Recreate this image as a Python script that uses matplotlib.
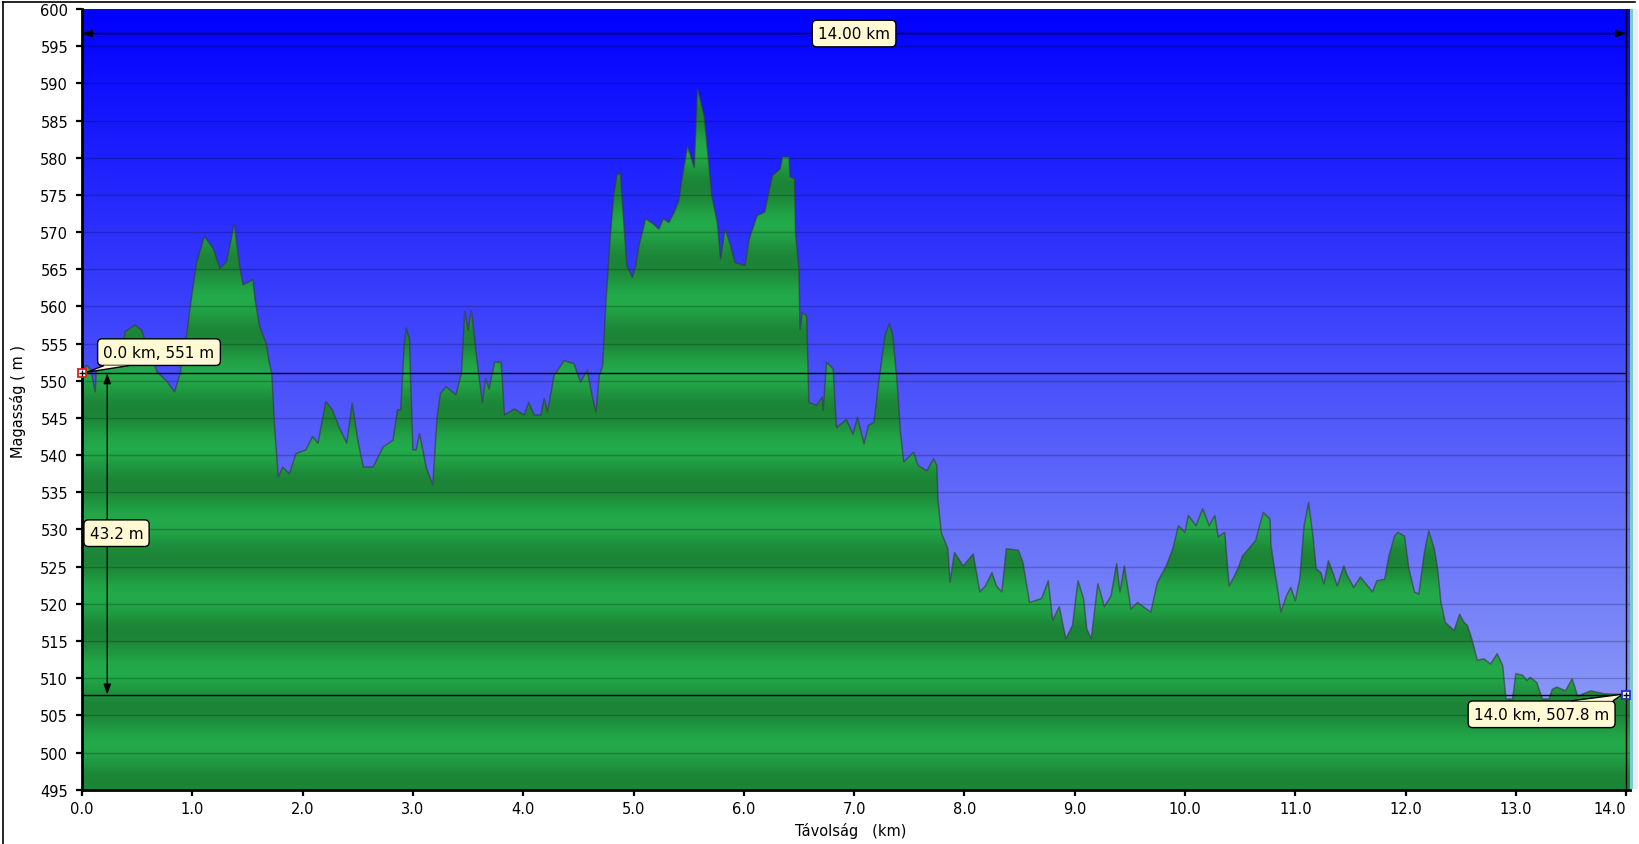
import numpy as np
import matplotlib
matplotlib.use("Agg")
import matplotlib.pyplot as plt
from matplotlib.patches import Polygon, Rectangle
from matplotlib.lines import Line2D
from matplotlib.patches import ArrowStyle

# ---------------- data ----------------
distance_km = [
    0.00, 0.04, 0.08, 0.12, 0.13, 0.25, 0.36, 0.39, 0.48, 0.54, 0.57, 0.68, 0.77, 0.84, 0.89, 0.95, 0.99,
    1.04, 1.11, 1.19, 1.25, 1.31, 1.38, 1.43, 1.46, 1.55, 1.57, 1.61, 1.67, 1.70, 1.72, 1.75, 1.78,
    1.82, 1.88, 1.94, 2.03, 2.09, 2.14, 2.21, 2.27, 2.33, 2.40, 2.45, 2.50, 2.55, 2.64, 2.73, 2.82,
    2.86, 2.89, 2.92, 2.94, 2.97, 2.98, 3.00, 3.03, 3.06, 3.12, 3.18, 3.22, 3.25, 3.30, 3.39, 3.44,
    3.47, 3.50, 3.53, 3.59, 3.63, 3.66, 3.69, 3.74, 3.80, 3.83, 3.92, 4.01, 4.05, 4.10, 4.16, 4.19,
    4.22, 4.28, 4.37, 4.46, 4.52, 4.58, 4.63, 4.66, 4.69, 4.72, 4.75, 4.79, 4.82, 4.85, 4.88, 4.91,
    4.94, 4.99, 5.02, 5.05, 5.11, 5.18, 5.23, 5.27, 5.32, 5.37, 5.41, 5.44, 5.49, 5.55, 5.58, 5.61,
    5.64, 5.67, 5.71, 5.76, 5.79, 5.83, 5.88, 5.92, 6.01, 6.05, 6.12, 6.19, 6.22, 6.26, 6.33, 6.35,
    6.41, 6.42, 6.46, 6.47, 6.50, 6.51, 6.53, 6.57, 6.59, 6.66, 6.71, 6.72, 6.75, 6.81, 6.84, 6.93,
    6.99, 7.03, 7.09, 7.13, 7.18, 7.22, 7.28, 7.32, 7.35, 7.39, 7.42, 7.45, 7.54, 7.58, 7.66, 7.72,
    7.75, 7.76, 7.79, 7.85, 7.87, 7.91, 7.99, 8.08, 8.14, 8.19, 8.25, 8.29, 8.34, 8.38, 8.49, 8.53,
    8.59, 8.70, 8.76, 8.80, 8.86, 8.92, 8.98, 9.03, 9.08, 9.11, 9.15, 9.21, 9.27, 9.33, 9.38, 9.41,
    9.45, 9.51, 9.57, 9.65, 9.69, 9.75, 9.83, 9.89, 9.94, 10.00, 10.03, 10.10, 10.16, 10.22, 10.27,
    10.30, 10.36, 10.40, 10.45, 10.49, 10.52, 10.60, 10.64, 10.71, 10.77, 10.78, 10.83, 10.87, 10.92,
    10.96, 11.00, 11.04, 11.08, 11.12, 11.16, 11.19, 11.23, 11.26, 11.30, 11.35, 11.38, 11.44, 11.47,
    11.53, 11.59, 11.64, 11.70, 11.74, 11.81, 11.85, 11.90, 11.93, 11.99, 12.03, 12.08, 12.12, 12.17,
    12.21, 12.26, 12.29, 12.32, 12.36, 12.44, 12.49, 12.53, 12.56, 12.60, 12.65, 12.71, 12.77, 12.83,
    12.88, 12.91, 12.97, 13.00, 13.06, 13.10, 13.13, 13.19, 13.24, 13.30, 13.33, 13.37, 13.45, 13.51,
    13.56, 13.68, 13.80, 14.00,
]
elevation_m = [
    551.0, 552.1, 551.5, 548.5, 551.4, 552.0, 553.0, 556.6, 557.5, 556.8, 555.5, 551.2, 549.9, 548.5, 551.0, 556.4, 560.9,
    566.0, 569.4, 567.8, 565.1, 566.0, 571.0, 565.4, 562.9, 563.6, 560.9, 557.3, 555.0, 552.3, 551.0, 542.9, 537.1,
    538.4, 537.5, 540.2, 540.7, 542.5, 541.6, 547.2, 546.1, 543.8, 541.6, 547.0, 542.0, 538.4, 538.4, 541.1, 542.0,
    546.1, 546.1, 554.6, 557.1, 555.5, 549.6, 540.7, 540.7, 542.9, 538.4, 536.0, 545.2, 548.3, 549.2, 548.1, 551.0,
    559.3, 556.8, 559.5, 551.6, 547.1, 550.3, 548.9, 552.5, 552.5, 545.4, 546.2, 545.4, 547.1, 545.4, 545.4, 547.6,
    545.8, 550.7, 552.7, 552.3, 549.8, 551.4, 547.6, 545.8, 550.7, 552.0, 560.6, 569.5, 574.9, 577.6, 578.0, 571.8,
    565.5, 563.9, 565.5, 568.2, 571.8, 571.1, 570.4, 571.8, 571.3, 572.7, 574.2, 577.2, 581.6, 578.7, 589.3, 587.5,
    585.7, 581.2, 574.9, 571.3, 566.4, 570.4, 568.2, 565.9, 565.5, 569.1, 572.2, 572.7, 574.9, 577.6, 578.5, 580.1,
    580.1, 577.4, 577.2, 569.7, 565.0, 556.9, 559.2, 558.7, 547.1, 546.7, 547.8, 546.0, 552.5, 551.6, 543.7, 544.8,
    542.8, 545.1, 541.5, 544.0, 544.4, 549.4, 556.1, 557.7, 556.1, 549.8, 543.1, 539.1, 540.4, 538.6, 537.9, 539.5,
    538.6, 534.1, 529.6, 527.4, 522.9, 526.9, 525.1, 526.7, 521.6, 522.4, 524.2, 522.4, 521.6, 527.4, 527.2, 525.6,
    520.2, 520.7, 523.1, 517.8, 519.6, 515.3, 517.1, 523.1, 520.7, 516.6, 515.3, 522.7, 519.6, 521.1, 525.4, 521.6,
    525.1, 519.3, 520.2, 519.3, 518.9, 522.9, 525.1, 527.4, 530.5, 529.6, 531.9, 530.5, 532.8, 530.5, 531.9,
    529.0, 529.6, 522.4, 523.8, 525.1, 526.4, 527.8, 528.5, 532.3, 531.4, 527.8, 522.9, 518.9, 521.1,
    522.2, 520.4, 523.3, 530.5, 533.6, 529.1, 524.7, 524.2, 522.7, 525.8, 523.8, 522.4, 525.1, 523.8,
    522.2, 523.6, 522.7, 521.6, 523.1, 523.3, 526.5, 529.1, 529.6, 529.1, 524.7, 521.6, 521.3, 526.9,
    529.8, 527.4, 524.7, 520.2, 517.5, 516.4, 518.6, 517.5, 517.1, 515.3, 512.4, 512.6, 511.9, 513.3,
    511.7, 507.2, 507.2, 510.6, 510.4, 509.7, 510.1, 509.4, 507.2, 507.2, 508.5, 508.8, 508.3, 509.9,
    507.6, 508.3, 507.9, 507.8,
]
x_ticks = [0, 1, 2, 3, 4, 5, 6, 7, 8, 9, 10, 11, 12, 13, 14]
y_ticks = list(range(495, 601, 5))
start_label = "0.0 km, 551 m"
end_label = "14.0 km, 507.8 m"
diff_label = "43.2 m"
length_label = "14.00 km"
start_elev = 551.0
end_elev = 507.8
total_km = 14.0

d = np.array(distance_km)
e = np.array(elevation_m)

# ---------------- figure ----------------
W, H = 1639, 845
fig = plt.figure(figsize=(W / 100, H / 100), dpi=100)
fig.patch.set_facecolor("white")

L, R, T, B = 82, 1630, 10, 790.7
ax = fig.add_axes([L / W, 1 - B / H, (R - L) / W, (B - T) / H])
px_per_km = 110.3
xmax = (R - L) / px_per_km
ymin, ymax = 495, 600

# background gradient (blue)
n = 600
top = np.array([0, 0, 255]) / 255.0
bot = np.array([155, 170, 246]) / 255.0
t = np.linspace(0, 1, n)[:, None]
grad = (top * (1 - t) + bot * t)[:, None, :]
ax.imshow(grad, extent=[0, xmax, ymin, ymax], aspect="auto", origin="upper",
          zorder=0, interpolation="bilinear")

# green banded fill
ev = np.linspace(ymax, ymin, 2100)
f = 0.5 - 0.5 * np.cos(2 * np.pi * (ev - 501.0) / 10.0)
light = np.array([35, 170, 74]) / 255.0
dark = np.array([28, 132, 55]) / 255.0
green = (light * (1 - f[:, None]) + dark * f[:, None])[:, None, :]
gim = ax.imshow(green, extent=[0, xmax, ymin, ymax], aspect="auto", origin="upper",
                zorder=1, interpolation="bilinear")
poly = Polygon(np.column_stack([np.r_[0, d, xmax, xmax], np.r_[ymin, e, e[-1], ymin]]),
               closed=True, facecolor="none", edgecolor="none")
ax.add_patch(poly)
gim.set_clip_path(poly)

# grid lines
for yv in y_ticks[1:-1]:
    ax.axhline(yv, color="black", alpha=0.22, lw=1.0, zorder=2)

# outline
ax.plot(d, e, color="#383838", alpha=0.6, lw=1.1, zorder=3)

# reference lines
ax.hlines([start_elev, end_elev], 0, total_km, color="black", lw=1.0, zorder=4)
ax.vlines(total_km, ymin, ymax, color="black", lw=1.0, zorder=4)

astyle = ArrowStyle("<|-|>", head_length=0.6, head_width=0.22)
ax.annotate("", xy=(0, 596.7), xytext=(total_km, 596.7),
            arrowprops=dict(arrowstyle=astyle, color="black", lw=1.0, mutation_scale=10,
                            shrinkA=0, shrinkB=0), zorder=5)
ax.annotate("", xy=(0.229, start_elev), xytext=(0.229, end_elev),
            arrowprops=dict(arrowstyle=astyle, color="black", lw=1.0, mutation_scale=10,
                            shrinkA=0, shrinkB=0), zorder=5)

box = dict(boxstyle="round,pad=0.38,rounding_size=0.3", facecolor="#FFF9D4",
           edgecolor="black", lw=1.0)
fs_ann = 11
ax.text(7.0, 596.7, length_label, ha="center", va="center", fontsize=fs_ann, bbox=box, zorder=7)
ax.text(0.313, 529.5, diff_label, ha="center", va="center", fontsize=fs_ann, bbox=box, zorder=7)

# callout tails
tail1 = Polygon([(0.20, 552.05), (0.045, 551.15), (0.43, 552.05)], closed=False,
                facecolor="#FFF9D4", edgecolor="black", lw=1.0, zorder=8, clip_on=False)
ax.add_patch(tail1)
ax.text(0.698, 553.85, start_label, ha="center", va="center", fontsize=fs_ann, bbox=box, zorder=7)

tail2 = Polygon([(13.50, 506.95), (13.97, 507.85), (13.88, 506.95)], closed=False,
                facecolor="#FFF9D4", edgecolor="black", lw=1.0, zorder=8, clip_on=False)
ax.add_patch(tail2)
ax.text(13.233, 505.14, end_label, ha="center", va="center", fontsize=fs_ann, bbox=box, zorder=7)

# markers
ax.plot([0], [start_elev], marker="s", ms=6, mfc="white", mec="#E02020", mew=1.3,
        zorder=9, clip_on=False)
ax.plot([0], [start_elev], marker="+", ms=4, color="black", mew=1.0, zorder=10, clip_on=False)
ax.plot([total_km], [end_elev], marker="s", ms=5.5, mfc="white", mec="#2030D0", mew=1.3,
        zorder=9, clip_on=False)
ax.plot([total_km], [end_elev], marker="+", ms=4, color="black", mew=1.0, zorder=10, clip_on=False)

# axes styling
ax.set_xlim(0, xmax)
ax.set_ylim(ymin, ymax)
ax.set_xticks(x_ticks)
ax.set_xticklabels([f"{v:.1f}" for v in x_ticks])
ax.set_yticks(y_ticks)
ax.set_yticklabels([str(v) for v in y_ticks])
ax.tick_params(axis="both", direction="out", length=4, width=1.6, labelsize=10.5,
               colors="black")
ax.tick_params(axis="y", pad=6)
ax.tick_params(axis="x", pad=4)
ax.get_xticklabels()[-1].set_horizontalalignment("right")
for s in ["top", "right"]:
    ax.spines[s].set_visible(False)
for s in ["left", "bottom"]:
    ax.spines[s].set_linewidth(2.0)
    ax.spines[s].set_color("black")
    ax.spines[s].set_zorder(6)

fig.text(18.5 / W, 1 - 402 / H, "Magasság ( m )", rotation=90, ha="center", va="center",
         fontsize=10.5)
fig.text(851 / W, 1 - 831 / H, "Távolság   (km)", ha="center", va="center", fontsize=10.5)

# frame and right strip
fig.add_artist(Line2D([3 / W, 1635 / W], [1 - 3 / H, 1 - 3 / H], color="black", lw=1.2,
                      transform=fig.transFigure))
fig.add_artist(Line2D([3 / W, 3 / W], [1 - 3 / H, 0], color="black", lw=1.2,
                      transform=fig.transFigure))
strip1 = Rectangle((1630 / W, 1 - 790 / H), 3 / W, 780 / H, transform=fig.transFigure,
                   facecolor="#7CCACA", edgecolor="none", zorder=-1)
strip2 = Rectangle((1633 / W, 1 - 790 / H), 5 / W, 780 / H, transform=fig.transFigure,
                   facecolor="#EDEDED", edgecolor="none", zorder=-1)
fig.add_artist(strip1)
fig.add_artist(strip2)

fig.savefig("out.png", dpi=100)
